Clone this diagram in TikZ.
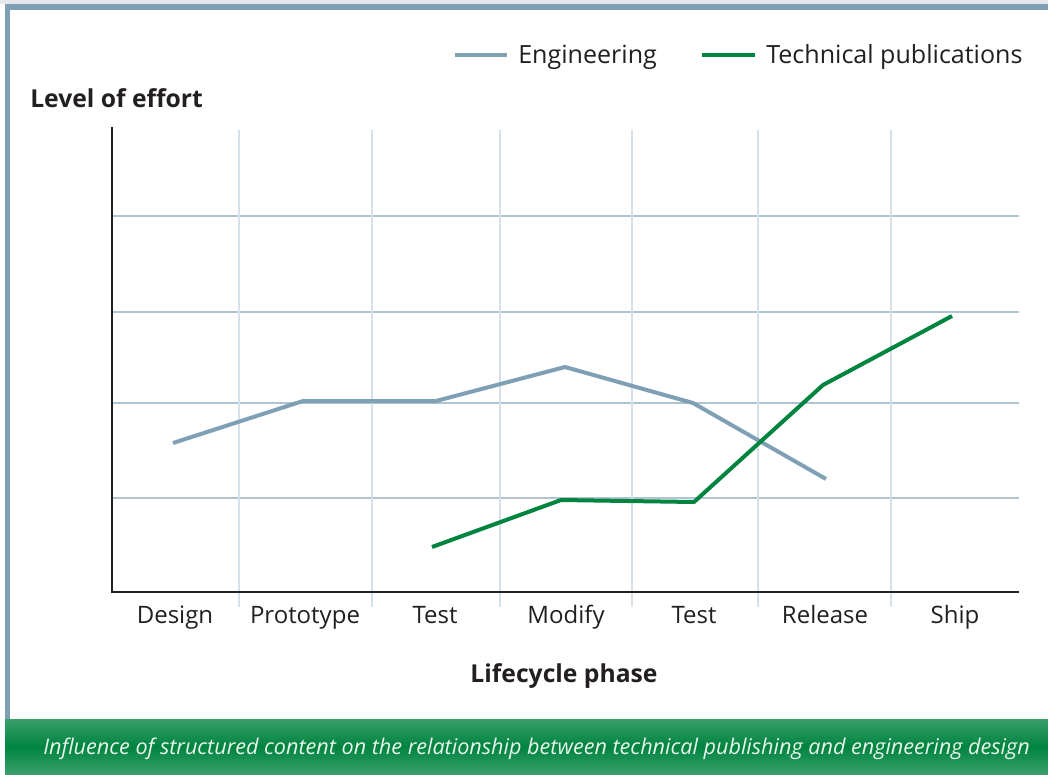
\documentclass[tikz,border=0pt]{standalone}
\usepackage{fontspec}
\setmainfont{Open Sans}
\usetikzlibrary{positioning}

\definecolor{frameblue}{HTML}{7F9FB5}
\definecolor{topstrip}{HTML}{E4E8EC}
\definecolor{enggray}{HTML}{7F9FB5}
\definecolor{pubgreen}{HTML}{00843F}
\definecolor{hgrid}{HTML}{AFC3D1}
\definecolor{vgrid}{HTML}{D5E0E9}
\definecolor{inkblack}{HTML}{231F20}
\definecolor{bardark}{HTML}{00843F}
\definecolor{barlight}{HTML}{3A9F6A}
\definecolor{captext}{HTML}{E8F4EC}

\tikzset{
	phase/.style={anchor=base, inner sep=0pt, text=inkblack, font=\fontsize{18}{21}\selectfont},
	legendtext/.style={anchor=base west, inner sep=0pt, text=inkblack, font=\fontsize{18.8}{22}\selectfont},
	axistitle/.style={inner sep=0pt, text=inkblack, font=\fontsize{18.5}{22}\selectfont\bfseries},
	engline/.style={enggray, line width=3pt, line join=round},
	publine/.style={pubgreen, line width=3pt, line join=round}
}

\begin{document}
\begin{tikzpicture}[x=0.75pt,y=-0.75pt]
	\useasboundingbox (0,0) rectangle (1048,774);
	\fill[topstrip] (0,0) rectangle (1048,4);
	\fill[frameblue] (5,4) rectangle (1048,10);
	\fill[frameblue] (5,4) rectangle (10,719);
	\shade[top color=barlight, bottom color=barlight, middle color=bardark] (5,719) rectangle (1048,774);
	\node[anchor=base west, inner sep=0pt, text=captext, font=\fontsize{16.2}{19}\selectfont\itshape] (caption) at (43,754)
		{Influence of structured content on the relationship between technical publishing and engineering design};

	\foreach \y in {216,312,403,498}
		\draw[hgrid, line width=1pt] (112,\y) -- (1019,\y);
	\foreach \x in {239,372,500,632,758,891}
		\draw[vgrid, line width=1.1pt] (\x,130) -- (\x,607);
	\draw[inkblack, line width=1.6pt] (112,592) -- (1019,592);
	\draw[inkblack, line width=2.2pt] (112,127) -- (112,592.8);

	\foreach \name/\x in {Design/175,Prototype/305,Test/435,Modify/566,Test/694,Release/825,Ship/955}
		\node[phase] (ph\x) at (\x,623) {\name};

	\node[axistitle, anchor=base west] (ytitle) at (30,108) {Level of effort};
	\node[axistitle, anchor=base] (xtitle) at (564,682) {Lifecycle phase};

	\coordinate (lg1) at (455,55);
	\coordinate (lg2) at (507,55);
	\coordinate (lp1) at (702,55);
	\coordinate (lp2) at (755,55);
	\draw[enggray, line width=3.2pt] (lg1) -- (lg2);
	\draw[pubgreen, line width=3.2pt] (lp1) -- (lp2);
	\node[legendtext] (engtext) at (518,64) {Engineering};
	\node[legendtext] (pubtext) at (766,64) {Technical publications};

	\coordinate (e1) at (173,443);
	\coordinate (e2) at (303,401);
	\coordinate (e3) at (436,401);
	\coordinate (e4) at (565,367);
	\coordinate (e5) at (693,403);
	\coordinate (e6) at (826,479);
	\draw[engline] (e1) -- (e2) -- (e3) -- (e4) -- (e5) -- (e6);

	\coordinate (t1) at (432,547);
	\coordinate (t2) at (561,500);
	\coordinate (t3) at (694,502);
	\coordinate (t4) at (823,385);
	\coordinate (t5) at (952,316);
	\draw[publine] (t1) -- (t2) -- (t3) -- (t4) -- (t5);
\end{tikzpicture}
\end{document}
